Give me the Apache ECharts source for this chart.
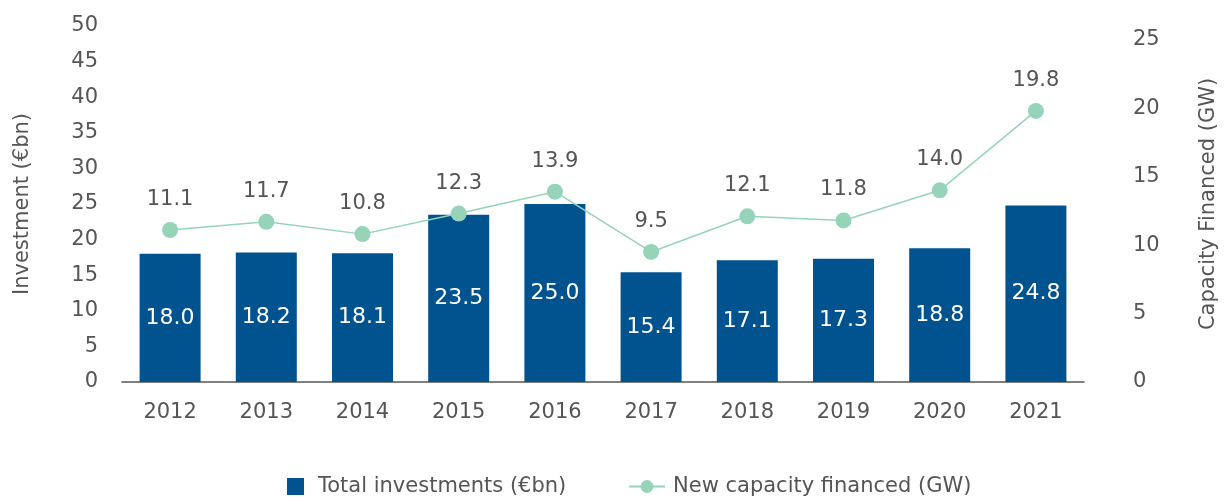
<!DOCTYPE html>
<html>
<head>
<meta charset="utf-8">
<script src="https://cdn.jsdelivr.net/npm/echarts@6/dist/echarts.min.js"></script>
<style>
  html, body { margin: 0; padding: 0; background: #fff; }
  #chart { width: 1227px; height: 497px; }
</style>
</head>
<body>
<div id="chart"></div>
<script>
// データ
const years = ['2012', '2013', '2014', '2015', '2016', '2017', '2018', '2019', '2020', '2021'];
const investments = [18.0, 18.2, 18.1, 23.5, 25.0, 15.4, 17.1, 17.3, 18.8, 24.8];
const capacity = [11.1, 11.7, 10.8, 12.3, 13.9, 9.5, 12.1, 11.8, 14.0, 19.8];

const blue = '#00538f';
const green = '#95d4b8';
const textColor = '#555';
const font = 'DejaVu Sans';
const fs = 21;

const chart = echarts.init(document.getElementById('chart'));

chart.setOption({
  textStyle: { fontFamily: font },
  animation: false,
  // 凡例は2つに分けて、四角アイコンと線アイコンの大きさを変える
  legend: [
    {
      top: 471,
      left: 282,
      itemWidth: 17,
      itemHeight: 17,
      textStyle: { color: textColor, fontSize: fs, fontFamily: font, padding: [0, 0, 0, 9] },
      data: [{ name: 'Total investments (€bn)', icon: 'rect', itemStyle: { color: blue } }]
    },
    {
      top: 471,
      left: 623,
      itemWidth: 36,
      itemHeight: 16,
      textStyle: { color: textColor, fontSize: fs, fontFamily: font, padding: [0, 0, 0, 3] },
      data: [{ name: 'New capacity financed (GW)' }]
    }
  ],
  grid: {
    top: 26,
    bottom: 115,
    left: 122,
    right: 138
  },
  xAxis: {
    type: 'category',
    data: years,
    axisTick: { show: false },
    axisLine: { lineStyle: { color: '#555', width: 1.5 } },
    axisLabel: { color: textColor, fontSize: fs, margin: 20 }
  },
  yAxis: [
    {
      type: 'value',
      min: 0,
      max: 50,
      interval: 5,
      name: 'Investment (€bn)',
      nameLocation: 'middle',
      nameGap: 89,
      nameRotate: 90,
      nameTextStyle: { color: textColor, fontSize: fs },
      splitLine: { show: false },
      axisLine: { show: false },
      axisTick: { show: false },
      axisLabel: { color: textColor, fontSize: fs, margin: 24 }
    },
    {
      type: 'value',
      min: 0,
      max: 26,
      interval: 5,
      name: 'Capacity Financed (GW)',
      nameLocation: 'middle',
      nameGap: 114,
      nameRotate: 90,
      nameTextStyle: { color: textColor, fontSize: fs },
      splitLine: { show: false },
      axisLine: { show: false },
      axisTick: { show: false },
      axisLabel: { color: textColor, fontSize: fs, margin: 49, showMaxLabel: false }
    }
  ],
  series: [
    {
      name: 'Total investments (€bn)',
      type: 'bar',
      data: investments,
      barWidth: 61,
      itemStyle: { color: blue },
      label: {
        show: true,
        position: 'inside',
        color: '#fff',
        fontSize: 22,
        formatter: p => p.value.toFixed(1)
      }
    },
    {
      name: 'New capacity financed (GW)',
      type: 'line',
      yAxisIndex: 1,
      data: capacity,
      symbol: 'circle',
      symbolSize: 16,
      lineStyle: { color: green, width: 1.5 },
      itemStyle: { color: green },
      label: {
        show: true,
        position: 'top',
        distance: 12,
        color: textColor,
        fontSize: fs,
        formatter: p => p.value.toFixed(1)
      }
    }
  ]
});
</script>
</body>
</html>
